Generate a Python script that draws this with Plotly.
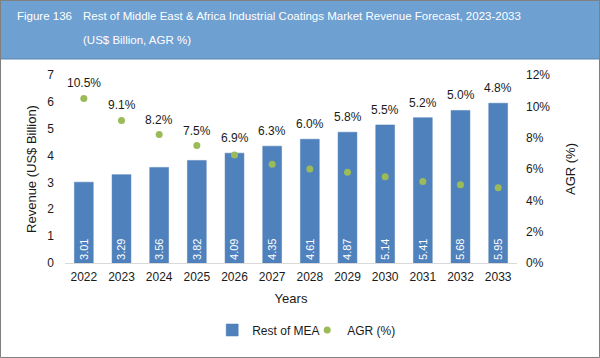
import plotly.graph_objects as go

years = ["2022", "2023", "2024", "2025", "2026", "2027", "2028", "2029", "2030", "2031", "2032", "2033"]
revenue = [3.01, 3.29, 3.56, 3.82, 4.09, 4.35, 4.61, 4.87, 5.14, 5.41, 5.68, 5.95]
agr = [10.5, 9.1, 8.2, 7.5, 6.9, 6.3, 6.0, 5.8, 5.5, 5.2, 5.0, 4.8]
left_ticks = [0, 1, 2, 3, 4, 5, 6, 7]
right_ticks = [0, 2, 4, 6, 8, 10, 12]

FONT = "Liberation Sans, Arial, sans-serif"
W, H = 600, 358
L_MAX, R_MAX = 7, 12

fig = go.Figure()
fig.add_trace(go.Bar(
    x=years, y=revenue, name="Rest of MEA",
    marker=dict(color="#4F81BD", line=dict(color="#4A7AB4", width=0.5)),
    text=[f"{v:.2f}" for v in revenue],
    textposition="inside", insidetextanchor="start", textangle=-90,
    textfont=dict(color="white", size=12, family=FONT),
))
fig.add_trace(go.Scatter(
    x=years, y=agr, name="AGR (%)", yaxis="y2",
    mode="markers",
    marker=dict(color="#9BBB59", size=7),
))

x0, x1 = 65 / W, 517 / W
y0, y1 = (H - 263) / H, (H - 75) / H

BANNER = 11.5
annotations = [
    dict(text="Figure 136", xref="paper", yref="paper", x=15 / W, y=(H - 16) / H,
         xanchor="left", yanchor="middle", showarrow=False,
         font=dict(color="white", size=BANNER, family=FONT)),
    dict(text="Rest of Middle East &amp; Africa Industrial Coatings Market Revenue Forecast, 2023-2033",
         xref="paper", yref="paper", x=81 / W, y=(H - 16) / H,
         xanchor="left", yanchor="middle", showarrow=False,
         font=dict(color="white", size=BANNER, family=FONT)),
    dict(text="(US$ Billion, AGR %)", xref="paper", yref="paper", x=81 / W, y=(H - 40) / H,
         xanchor="left", yanchor="middle", showarrow=False,
         font=dict(color="white", size=BANNER, family=FONT)),
]
# AGR labels placed above the higher of the marker and the bar top
for i, (r, a) in enumerate(zip(revenue, agr)):
    top = max(a, r * R_MAX / L_MAX)
    annotations.append(dict(
        text=f"{a:.1f}%", x=i, y=top, xref="x", yref="y2",
        showarrow=False, yanchor="middle", yshift=15,
        font=dict(color="#1a1a1a", size=12, family=FONT)))

fig.update_layout(
    width=W, height=H,
    margin=dict(l=0, r=0, t=0, b=0, pad=0, autoexpand=False),
    paper_bgcolor="white", plot_bgcolor="white",
    font=dict(family=FONT, size=12, color="#1a1a1a"),
    bargap=0.5,
    showlegend=True,
    legend=dict(orientation="h", x=0.512, xanchor="center", y=(H - 330) / H, yanchor="middle",
                font=dict(size=12), traceorder="normal", itemwidth=30, entrywidth=50),
    xaxis=dict(domain=[x0, x1], type="category", range=[-0.5, len(years) - 0.5],
               showline=True, linecolor="#D9D9D9", linewidth=1,
               ticks="", tickfont=dict(size=12), automargin=False, ticklabelstandoff=3,
               title=dict(text="Years", font=dict(size=13), standoff=10)),
    yaxis=dict(domain=[y0, y1], range=[0, L_MAX], tickvals=left_ticks, showgrid=False,
               zeroline=False, showline=False, ticks="", tickfont=dict(size=12),
               automargin=False, ticklabelstandoff=10,
               title=dict(text="Revenue (US$ Billion)", font=dict(size=13), standoff=7)),
    yaxis2=dict(overlaying="y", side="right", range=[0, R_MAX], tickvals=right_ticks,
                ticktext=[f"{t}%" for t in right_ticks], automargin=False,
                showgrid=False, zeroline=False, showline=False, ticks="",
                tickfont=dict(size=12), ticklabelstandoff=8,
                title=dict(text="AGR (%)", font=dict(size=13), standoff=16)),
    shapes=[
        dict(type="rect", xref="paper", yref="paper", x0=0, x1=1, y0=(H - 59) / H, y1=1,
             fillcolor="#6FA0D2", line=dict(color="#5A87B5", width=1), layer="below"),
        dict(type="rect", xref="paper", yref="paper", x0=0.5 / W, x1=1 - 0.5 / W, y0=0.5 / H, y1=1 - 0.5 / H,
             fillcolor="rgba(0,0,0,0)", line=dict(color="#808080", width=1)),
    ],
    annotations=annotations,
)

fig.write_html("out.html", config={"displayModeBar": False},
               post_script="document.body.style.margin='0px';")
